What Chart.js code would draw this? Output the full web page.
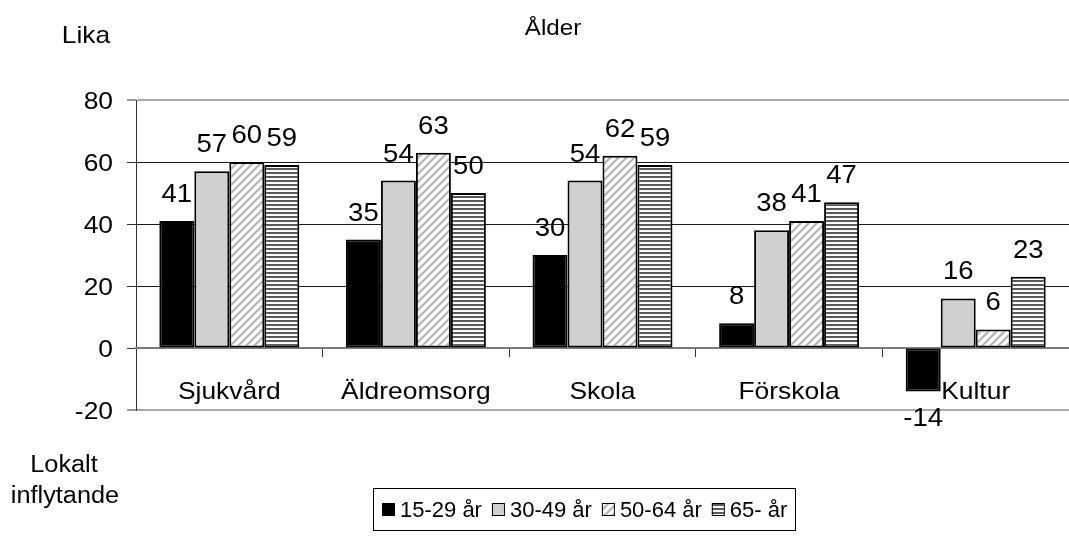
<!DOCTYPE html>
<html><head><meta charset="utf-8">
<script src="https://cdn.jsdelivr.net/npm/chart.js@4/dist/chart.umd.min.js"></script>
<style>html,body{margin:0;padding:0;background:#fff}#wrap{width:1069px;height:540px;position:relative}</style>
</head><body><div id="wrap"><canvas id="c"></canvas></div>
<script>
const categories = ['Sjukvård','Äldreomsorg','Skola','Förskola','Kultur'];
const seriesNames = ['15-29 år','30-49 år','50-64 år','65- år'];
const age15_29 = [41,35,30,8,-14];
const age30_49 = [57,54,54,38,16];
const age50_64 = [60,63,62,41,6];
const age65plus = [59,50,59,47,23];
const yTickValues = [-20,0,20,40,60,80];
const titleText = 'Ålder';
const topAxisText = 'Lika';
const bottomAxisText = ['Lokalt','inflytande'];

const FONT = '"Liberation Sans", Arial, sans-serif';
const SX = 1.1;

function makeHatch(){
  const c=document.createElement('canvas');c.width=8;c.height=8;const x=c.getContext('2d');
  x.fillStyle='#fff';x.fillRect(0,0,8,8);
  x.strokeStyle='#b4b4b4';x.lineWidth=2.2;
  x.beginPath();x.moveTo(-2,10);x.lineTo(10,-2);x.moveTo(-2,2);x.lineTo(2,-2);x.moveTo(6,10);x.lineTo(10,6);x.stroke();
  return x.createPattern(c,'repeat');
}
function makeStripes(){
  const c=document.createElement('canvas');c.width=4;c.height=4;const x=c.getContext('2d');
  x.fillStyle='#fff';x.fillRect(0,0,4,4);
  x.fillStyle='#5a5a5a';x.fillRect(0,0,4,2);
  return x.createPattern(c,'repeat');
}
const fills=['#000000','#d0d0d0',makeHatch(),makeStripes()];
const seriesData=[age15_29,age30_49,age50_64,age65plus];

function sText(ctx,t,x,y,size,align){
  ctx.save();
  ctx.font=size+'px '+FONT;
  ctx.textAlign=align;ctx.textBaseline='alphabetic';ctx.fillStyle='#000';
  ctx.translate(x,y);ctx.scale(SX,1);
  ctx.fillText(t,0,0);
  ctx.restore();
}

const textPlugin={
  id:'texts',
  afterDatasetsDraw(chart){
    const ctx=chart.ctx;
    const ys=chart.scales.y, xs=chart.scales.x;
    ys.ticks.forEach(tk=>{
      sText(ctx,String(tk.value),113,ys.getPixelForValue(tk.value)+8.5,24,'right');
    });
    categories.forEach((c,i)=>{
      sText(ctx,c,xs.getPixelForValue(i),ys.getPixelForValue(0)+51,24,'center');
    });
    chart.data.datasets.forEach((ds,i)=>{
      const meta=chart.getDatasetMeta(i);
      meta.data.forEach((el,j)=>{
        const v=ds.data[j];
        if(v>=0) sText(ctx,String(v),el.x,el.y-19,25,'center');
        else sText(ctx,String(v),el.x,el.y+35,25,'center');
      });
    });
    sText(ctx,titleText,553,35,22,'center');
    sText(ctx,topAxisText,86,43,24,'center');
    sText(ctx,bottomAxisText[0],64,472,23,'center');
    sText(ctx,bottomAxisText[1],65,503,23,'center');
    ctx.save();
    ctx.font='22px '+FONT;
    ctx.textAlign='left';ctx.textBaseline='alphabetic';
    const bx=373,by=488,bw=422,bh=42;
    ctx.strokeStyle='#000';ctx.lineWidth=1;
    ctx.strokeRect(bx+0.5,by+0.5,bw,bh);
    let x=382;const cy=509;
    seriesNames.forEach((n,i)=>{
      ctx.fillStyle=fills[i];
      ctx.fillRect(x,cy-6,12,12);
      ctx.strokeRect(x+0.5,cy-6+0.5,12,12);
      ctx.fillStyle='#000';
      ctx.fillText(n,x+18,cy+8);
      x+=18+ctx.measureText(n).width+10;
    });
    ctx.restore();
  }
};

new Chart(document.getElementById('c'),{
  type:'bar',
  data:{
    labels:categories,
    datasets:seriesNames.map((n,i)=>({
      label:n,data:seriesData[i],backgroundColor:fills[i],
      borderColor:'#000',borderWidth:2,borderSkipped:false,
      barPercentage:1,categoryPercentage:0.75
    }))
  },
  options:{
    responsive:true,maintainAspectRatio:false,animation:false,
    layout:{padding:{top:100,bottom:130,left:0,right:0}},
    plugins:{legend:{display:false},tooltip:{enabled:false},title:{display:false}},
    scales:{
      y:{
        min:yTickValues[0],max:yTickValues[yTickValues.length-1],
        afterFit(s){s.width=136;},
        afterBuildTicks(s){s.ticks=yTickValues.map(v=>({value:v}));},
        ticks:{display:false},
        border:{color:'#333',width:1},
        grid:{
          color:(c)=>{const v=c.tick&&c.tick.value;if(v===0)return 'rgba(0,0,0,0)';if(v===80||v===-20)return '#a8a8a8';return '#1a1a1a';},
          lineWidth:(c)=>{const v=c.tick&&c.tick.value;return (v===80||v===-20)?2:1;},
          tickColor:'#333',tickWidth:1,tickLength:9
        }
      },
      x:{
        position:{y:0},
        ticks:{display:false},
        border:{color:'#7a7a7a',width:2},
        grid:{offset:true,drawOnChartArea:false,drawTicks:true,tickLength:8,tickColor:'#333',tickWidth:1}
      }
    }
  },
  plugins:[textPlugin]
});
</script></body></html>
